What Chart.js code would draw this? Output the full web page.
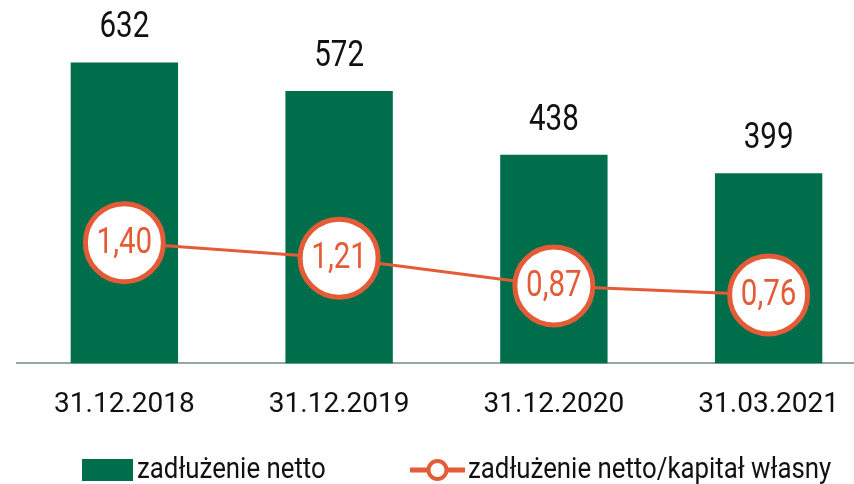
<!DOCTYPE html>
<html>
<head>
<meta charset="utf-8">
<script src="https://cdn.jsdelivr.net/npm/chart.js@4/dist/chart.umd.min.js"></script>
<style>
  html, body { margin: 0; padding: 0; background: #ffffff; overflow: hidden; }
  #wrap { width: 854px; height: 484px; position: relative; overflow: hidden; }
</style>
</head>
<body>
<div id="wrap"><canvas id="c" width="880" height="484"></canvas></div>
<script>
const categories = ['31.12.2018', '31.12.2019', '31.12.2020', '31.03.2021'];
const netDebt = [632, 572, 438, 399];
const debtToEquity = [1.40, 1.21, 0.87, 0.76];
const seriesLabels = ['zadłużenie netto', 'zadłużenie netto/kapitał własny'];

const GREEN = '#006E4A';
const ORANGE = '#E35C37';
const FONT = "Roboto, 'Liberation Sans', sans-serif";

function condensedText(ctx, text, x, y, squeeze) {
  ctx.save();
  ctx.translate(x, y);
  ctx.scale(squeeze, 1);
  ctx.fillText(text, 0, 0);
  ctx.restore();
}

const labelsPlugin = {
  id: 'valueLabels',
  afterDatasetsDraw(chart) {
    const ctx = chart.ctx;
    ctx.save();
    ctx.textAlign = 'center';
    ctx.textBaseline = 'middle';
    ctx.font = '36px ' + FONT;
    chart.data.datasets.forEach((ds, i) => {
      const meta = chart.getDatasetMeta(i);
      meta.data.forEach((el, j) => {
        const v = ds.data[j];
        if (ds.type === 'bar') {
          ctx.fillStyle = '#111111';
          condensedText(ctx, String(v), el.x, el.y - 34, 0.82);
        } else {
          ctx.fillStyle = ORANGE;
          condensedText(ctx, v.toFixed(2).replace('.', ','), el.x, el.y + 1, 0.82);
        }
      });
    });
    ctx.restore();
  }
};

const legendPlugin = {
  id: 'customLegend',
  afterDraw(chart) {
    const ctx = chart.ctx;
    const y = 470;
    ctx.save();
    ctx.font = '30px ' + FONT;
    ctx.textBaseline = 'middle';
    ctx.textAlign = 'left';
    ctx.fillStyle = GREEN;
    ctx.fillRect(82, 459, 51, 22);
    ctx.fillStyle = '#111111';
    condensedText(ctx, chart.data.datasets[1].label, 137, y, 0.86);
    ctx.strokeStyle = ORANGE;
    ctx.lineWidth = 5;
    ctx.beginPath();
    ctx.moveTo(410, y);
    ctx.lineTo(465, y);
    ctx.stroke();
    ctx.beginPath();
    ctx.arc(437.5, y, 9, 0, Math.PI * 2);
    ctx.fillStyle = '#ffffff';
    ctx.fill();
    ctx.lineWidth = 4;
    ctx.stroke();
    ctx.fillStyle = '#111111';
    condensedText(ctx, chart.data.datasets[0].label, 468, y, 0.86);
    ctx.restore();
  }
};

new Chart(document.getElementById('c'), {
  data: {
    labels: categories,
    datasets: [
      {
        type: 'line',
        label: seriesLabels[1],
        data: debtToEquity,
        yAxisID: 'y2',
        order: 0,
        borderColor: ORANGE,
        borderWidth: 3,
        pointRadius: 39,
        pointHoverRadius: 39,
        pointBorderWidth: 5,
        pointBackgroundColor: '#ffffff',
        pointBorderColor: ORANGE,
        tension: 0,
        fill: false,
        clip: false
      },
      {
        type: 'bar',
        label: seriesLabels[0],
        data: netDebt,
        yAxisID: 'y',
        order: 1,
        backgroundColor: GREEN,
        barPercentage: 0.5,
        categoryPercentage: 1.0
      }
    ]
  },
  options: {
    responsive: false,
    animation: false,
    events: [],
    layout: { autoPadding: false, padding: { left: 17, right: 4, top: 20, bottom: 37 } },
    plugins: { legend: { display: false }, tooltip: { enabled: false } },
    scales: {
      x: {
        offset: true,
        grid: { display: false, drawTicks: false },
        border: { display: true, color: '#93AA9C', width: 2 },
        ticks: { color: '#111111', padding: 25, font: { family: FONT, size: 28 }, maxRotation: 0, autoSkip: false }
      },
      y: { display: false, min: 0, max: 721 },
      y2: { display: false, min: -0.08, max: 4.13 }
    }
  },
  plugins: [labelsPlugin, legendPlugin]
});
</script>
</body>
</html>
